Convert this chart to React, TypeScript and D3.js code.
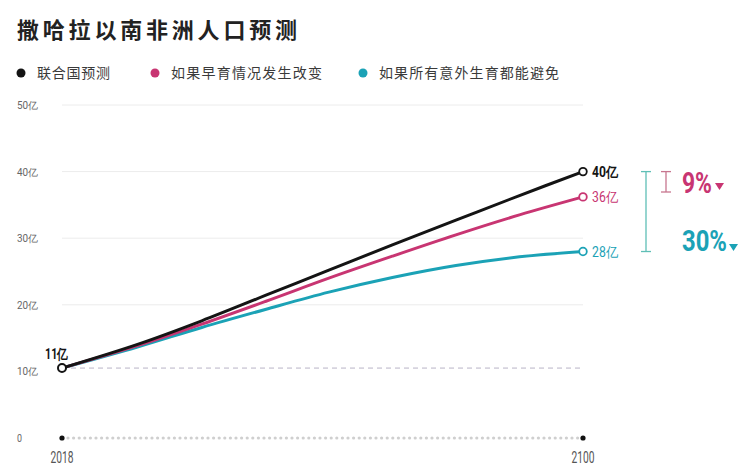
import React from "react";
import * as d3 from "d3";

const years = [2018, 2030, 2040, 2050, 2060, 2070, 2080, 2090, 2100];
const unSeries = [10.5, 14.1, 17.6, 21.4, 25.2, 29.0, 32.7, 36.4, 40];
const earlySeries = [10.5, 13.9, 17.1, 20.5, 24.0, 27.3, 30.5, 33.5, 36.2];
const unintendedSeries = [10.5, 13.7, 16.6, 19.3, 21.9, 24.1, 25.9, 27.2, 28.0];
const yTicks = [0, 10, 20, 30, 40, 50];
const yTickLabels = ["0", "10亿", "20亿", "30亿", "40亿", "50亿"];
const xTickLabels = ["2018", "2100"];
const legendLabels = ["联合国预测", "如果早育情况发生改变", "如果所有意外生育都能避免"];
const endLabels = ["40亿", "36亿", "28亿"];
const startLabel = "11亿";
const pctLabels = ["9%", "30%"];
const colors = ["#141414", "#c83572", "#1ba2b6"];

const CJK = "'Noto Sans CJK SC', 'Noto Sans', sans-serif";
const NUM = "'Liberation Sans Narrow', 'Roboto', 'Noto Sans', sans-serif";

export default function App() {
  const x = d3.scaleLinear().domain([2018, 2100]).range([62, 583]);
  const y = d3.scaleLinear().domain([0, 50]).range([438, 105]);
  const series = [unSeries, earlySeries, unintendedSeries];
  const line = d3
    .line<number>()
    .x((_, i) => x(years[i]))
    .y((d) => y(d))
    .curve(d3.curveCatmullRom.alpha(0.5));

  const dots: number[] = d3.range(x(2018) + 6, x(2100) - 3, 5.6);

  const legendX = [21, 155, 363];
  const legendLen = [73, 151, 180];

  const yEnd = series.map((s) => y(s[s.length - 1]));
  const yStart = y(unSeries[0]);

  return (
    <svg
      width={750}
      height={475}
      style={{ position: "absolute", left: 0, top: 0, background: "#fff" }}
    >
      <text
        x={17}
        y={38}
        fontFamily={CJK}
        fontWeight={700}
        fontSize={22}
        textLength={280}
        lengthAdjust="spacing"
        fill="#222"
      >
        撒哈拉以南非洲人口预测
      </text>

      {legendLabels.map((l, i) => (
        <g key={l}>
          <circle cx={legendX[i]} cy={73} r={4.5} fill={colors[i]} />
          <text
            x={legendX[i] + 16}
            y={78}
            fontFamily={CJK}
            fontSize={14}
            textLength={legendLen[i]}
            lengthAdjust="spacing"
            fill="#3a3a3a"
          >
            {l}
          </text>
        </g>
      ))}

      {yTicks
        .filter((t) => t >= 20)
        .map((t) => (
          <line key={t} x1={x(2018)} x2={x(2100)} y1={y(t)} y2={y(t)} stroke="#ececec" strokeWidth={1} />
        ))}

      {yTicks.map((t, i) => (
        <text
          key={t}
          x={17}
          y={y(t) + 4}
          fontFamily={NUM}
          fontSize={10}
          textLength={t === 0 ? 5 : 21}
          lengthAdjust="spacingAndGlyphs"
          fill="#666"
        >
          {yTickLabels[i]}
        </text>
      ))}

      <line
        x1={x(2018)}
        x2={x(2100)}
        y1={yStart}
        y2={yStart}
        stroke="#b9b3c6"
        strokeWidth={1}
        strokeDasharray="5 4"
      />

      {dots.map((d, i) => (
        <circle key={i} cx={d} cy={y(0)} r={1.6} fill="#cfcfcf" />
      ))}
      <circle cx={x(2018)} cy={y(0)} r={2.6} fill="#111" />
      <circle cx={x(2100)} cy={y(0)} r={2.6} fill="#111" />

      <text x={x(2018)} y={463} textAnchor="middle" fontFamily={NUM} fontSize={16} textLength={23} lengthAdjust="spacingAndGlyphs" fill="#555">
        {xTickLabels[0]}
      </text>
      <text x={x(2100)} y={463} textAnchor="middle" fontFamily={NUM} fontSize={16} textLength={23} lengthAdjust="spacingAndGlyphs" fill="#555">
        {xTickLabels[1]}
      </text>

      {[2, 1, 0].map((i) => (
        <path key={i} d={line(series[i]) || ""} fill="none" stroke={colors[i]} strokeWidth={3} strokeLinecap="round" />
      ))}

      {series.map((s, i) => (
        <circle key={i} cx={x(2100)} cy={yEnd[i]} r={3.8} fill="#fff" stroke={colors[i]} strokeWidth={1.8} />
      ))}
      <circle cx={x(2018)} cy={yStart} r={4} fill="#fff" stroke={colors[0]} strokeWidth={2} />

      <text x={45} y={yStart - 9} fontFamily={NUM} fontWeight={700} fontSize={14} textLength={23} lengthAdjust="spacingAndGlyphs" fill="#111">
        {startLabel}
      </text>

      {endLabels.map((l, i) => (
        <text
          key={l}
          x={592}
          y={yEnd[i] + 5}
          fontFamily={NUM}
          fontWeight={i === 0 ? 700 : 400}
          fontSize={14}
          textLength={26}
          lengthAdjust="spacingAndGlyphs"
          fill={colors[i]}
        >
          {l}
        </text>
      ))}

      <g stroke="#5fbfb6" strokeWidth={1.3}>
        <line x1={646} x2={646} y1={yEnd[0]} y2={yEnd[2]} />
        <line x1={641} x2={651} y1={yEnd[0]} y2={yEnd[0]} />
        <line x1={641} x2={651} y1={yEnd[2]} y2={yEnd[2]} />
      </g>
      <g stroke="#c7768f" strokeWidth={1.3}>
        <line x1={666} x2={666} y1={yEnd[0]} y2={192} />
        <line x1={661} x2={671} y1={yEnd[0]} y2={yEnd[0]} />
        <line x1={661} x2={671} y1={192} y2={192} />
      </g>

      <text x={682} y={193} fontFamily={NUM} fontWeight={700} fontSize={29} textLength={30} lengthAdjust="spacingAndGlyphs" fill={colors[1]}>
        {pctLabels[0]}
      </text>
      <path d="M715,183 L724,183 L719.5,190 Z" fill={colors[1]} />
      <text x={682} y={251} fontFamily={NUM} fontWeight={700} fontSize={29} textLength={45} lengthAdjust="spacingAndGlyphs" fill={colors[2]}>
        {pctLabels[1]}
      </text>
      <path d="M729,244 L738,244 L733.5,251 Z" fill={colors[2]} />
    </svg>
  );
}
